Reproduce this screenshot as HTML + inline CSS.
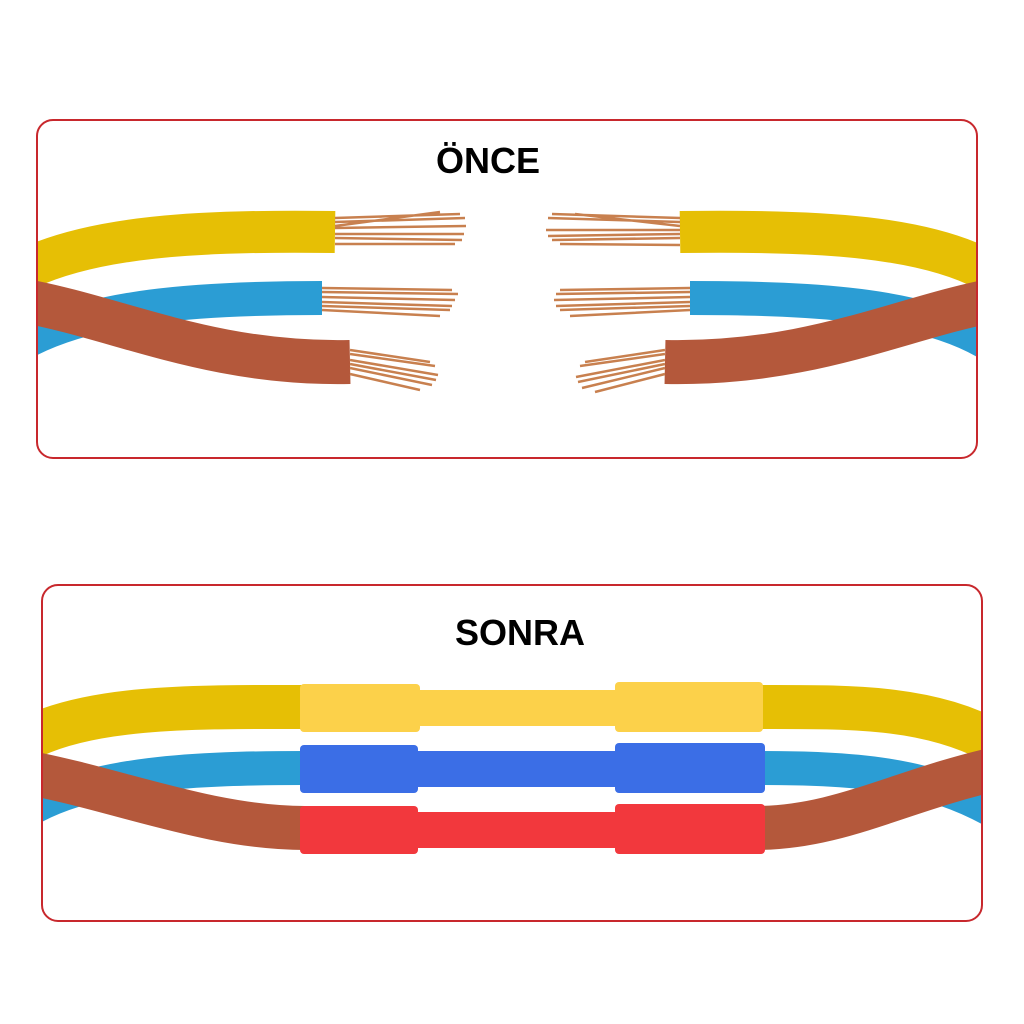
<!DOCTYPE html>
<html><head><meta charset="utf-8"><style>
html,body{margin:0;padding:0;background:#fff;}
svg{display:block}
</style></head><body>
<svg width="1024" height="1024" viewBox="0 0 1024 1024" xmlns="http://www.w3.org/2000/svg">
<defs>
<clipPath id="c1"><rect x="37" y="120" width="940" height="338" rx="16"/></clipPath>
<clipPath id="c2"><rect x="42" y="585" width="940" height="336" rx="16"/></clipPath>
</defs>
<rect width="1024" height="1024" fill="#fff"/>

<!-- TOP PANEL -->
<g clip-path="url(#c1)" fill="none" stroke-linecap="butt">
  <path d="M20,272 C90,236 200,230 335,232" stroke="#e6bf05" stroke-width="42"/>
  <path d="M20,345 C90,305 200,298 322,298" stroke="#2b9dd4" stroke-width="34"/>
  <path d="M20,300 C120,318 210,365 350,362" stroke="#b4583b" stroke-width="44"/>
  <g stroke="#c8804f" stroke-width="2.5">
    <path d="M335,218 L460,214 M335,222 L465,218 M335,228 L466,226 M335,234 L464,234 M335,238 L462,240 M335,244 L455,244 M335,226 L440,212"/>
    <path d="M322,288 L452,290 M322,292 L458,294 M322,297 L455,300 M322,302 L452,306 M322,306 L450,310 M322,310 L440,316"/>
    <path d="M350,350 L430,362 M350,354 L435,366 M350,360 L438,375 M350,364 L436,380 M350,368 L432,385 M350,374 L420,390"/>
  </g>
  <path d="M680,232 C820,230 930,236 995,275" stroke="#e6bf05" stroke-width="42"/>
  <path d="M690,298 C820,298 930,305 995,348" stroke="#2b9dd4" stroke-width="34"/>
  <path d="M665,362 C810,365 900,318 995,300" stroke="#b4583b" stroke-width="44"/>
  <g stroke="#c8804f" stroke-width="2.5">
    <path d="M680,218 L552,214 M680,222 L548,218 M680,230 L546,230 M680,234 L548,236 M680,238 L552,240 M680,245 L560,244 M680,226 L575,214"/>
    <path d="M690,288 L560,290 M690,292 L556,294 M690,297 L554,300 M690,302 L556,306 M690,306 L560,310 M690,310 L570,316"/>
    <path d="M665,350 L585,362 M665,354 L580,366 M665,360 L576,377 M665,364 L578,382 M665,368 L582,388 M665,374 L595,392"/>
  </g>
</g>
<rect x="37" y="120" width="940" height="338" rx="16" fill="none" stroke="#c8282d" stroke-width="2"/>
<text x="488" y="173" text-anchor="middle" font-family="Liberation Sans, sans-serif" font-weight="bold" font-size="36" fill="#000">ÖNCE</text>

<!-- BOTTOM PANEL -->
<g clip-path="url(#c2)" fill="none">
  <path d="M25,740 C90,705 200,707 305,707 M755,707 C850,707 930,705 1000,745" stroke="#e6bf05" stroke-width="44"/>
  <path d="M25,812 C90,772 200,768 305,768 M755,768 C850,768 930,772 1000,815" stroke="#2b9dd4" stroke-width="34"/>
  <path d="M25,772 C120,790 210,828 305,828 M755,828 C840,828 900,790 1000,768" stroke="#b4583b" stroke-width="44"/>
  <g fill="#fcd14a" stroke="none">
    <rect x="300" y="684" width="120" height="48" rx="4"/>
    <rect x="410" y="690" width="215" height="36"/>
    <rect x="615" y="682" width="148" height="50" rx="4"/>
  </g>
  <g fill="#3b6ee6" stroke="none">
    <rect x="300" y="745" width="118" height="48" rx="4"/>
    <rect x="410" y="751" width="215" height="36"/>
    <rect x="615" y="743" width="150" height="50" rx="4"/>
  </g>
  <g fill="#f2383d" stroke="none">
    <rect x="300" y="806" width="118" height="48" rx="4"/>
    <rect x="410" y="812" width="215" height="36"/>
    <rect x="615" y="804" width="150" height="50" rx="4"/>
  </g>
</g>
<rect x="42" y="585" width="940" height="336" rx="16" fill="none" stroke="#c8282d" stroke-width="2"/>
<text x="520" y="645" text-anchor="middle" font-family="Liberation Sans, sans-serif" font-weight="bold" font-size="36" fill="#000">SONRA</text>
</svg>
</body></html>
